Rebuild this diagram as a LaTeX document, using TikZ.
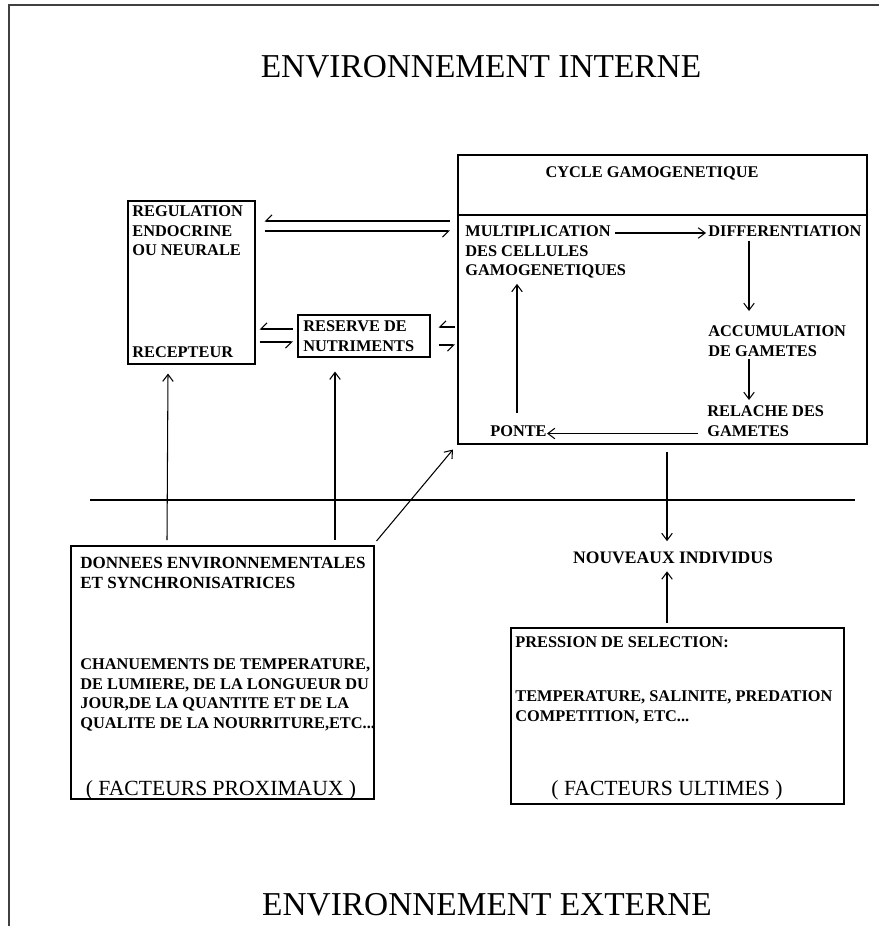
\documentclass[tikz,border=0pt]{standalone}
\usepackage{fontspec}
\setmainfont{Liberation Serif}
\usetikzlibrary{calc,arrows.meta}

\begin{document}
\begin{tikzpicture}[x=0.02cm, y=-0.02cm,
    box/.style={draw, line width=0.9pt, anchor=north west, inner sep=0pt},
    txt/.style={font=\bfseries\fontsize{9.3}{11.3}\selectfont, align=left, inner sep=0pt, anchor=north west},
    big/.style={font=\fontsize{12.3}{14}\selectfont, inner sep=0pt},
    titre/.style={font=\fontsize{19}{22}\selectfont, inner sep=0pt},
    fl/.style={-{Straight Barb[length=4pt,width=6pt]}, line width=0.6pt},
    harp/.style={-{Straight Barb[harpoon,swap,length=3.5pt,width=7pt]}, line width=0.6pt}]
    \useasboundingbox (0,0) rectangle (879,926);

    % 外枠と境界線
    \draw[line width=1pt, black!75] (9,926) -- (9,5) -- (879,5);
    \draw[line width=0.8pt] (90,500) -- (855,500);

    % タイトル
    \node[titre] (interne) at (481,67) {ENVIRONNEMENT INTERNE};
    \node[titre] (externe) at (487,905) {ENVIRONNEMENT EXTERNE};

    % 枠
    \node[box, minimum width=2.54cm, minimum height=3.26cm] (reg) at (127,200) {};
    \node[box, minimum width=2.64cm, minimum height=0.84cm] (res) at (297,314) {};
    \node[box, minimum width=8.18cm, minimum height=5.78cm] (cyc) at (457,154) {};
    \node[box, minimum width=6.06cm, minimum height=5.06cm] (don) at (70,545) {};
    \node[box, minimum width=6.66cm, minimum height=3.52cm] (pre) at (510,627) {};
    \draw[line width=0.9pt] ($(cyc.north west)+(0,61)$) -- ($(cyc.north east)+(0,61)$);

    % 文字
    \node[txt] (regt) at (132,205) {REGULATION\\ENDOCRINE\\OU NEURALE};
    \node[txt, anchor=base west] (rec) at (132,357) {RECEPTEUR};
    \node[txt] (rest) at (303,320) {RESERVE DE\\NUTRIMENTS};
    \node[txt, anchor=center] (cyct) at (652,173) {CYCLE GAMOGENETIQUE};
    \node[txt] (mul) at (465,225) {MULTIPLICATION\\DES CELLULES\\GAMOGENETIQUES};
    \node[txt] (dif) at (708,225) {DIFFERENTIATION};
    \node[txt] (acc) at (708,325) {ACCUMULATION\\DE GAMETES};
    \node[txt] (rel) at (707,405) {RELACHE DES\\GAMETES};
    \node[txt] (ponte) at (490,425) {PONTE};
    \node[txt, font=\bfseries\fontsize{9.7}{11.3}\selectfont] (dont) at (80,557) {DONNEES ENVIRONNEMENTALES\\ET SYNCHRONISATRICES};
    \node[txt] (chg) at (80,658) {CHANUEMENTS DE TEMPERATURE,\\DE LUMIERE, DE LA LONGUEUR DU\\JOUR,DE LA QUANTITE ET DE LA\\QUALITE DE LA NOURRITURE,ETC...};
    \node[big] (prox) at (221,790) {( FACTEURS PROXIMAUX )};
    \node[txt] (selt) at (515,636) {PRESSION DE SELECTION:};
    \node[txt] (fact) at (515,690) {TEMPERATURE, SALINITE, PREDATION\\COMPETITION, ETC...};
    \node[big] (ult) at (667,790) {( FACTEURS ULTIMES )};
    \node[txt, anchor=center, font=\bfseries\fontsize{10}{12}\selectfont] (nouv) at (673,558) {NOUVEAUX INDIVIDUS};

    % 配偶子形成の循環
    \draw[fl] ($(mul.north west)+(150,8)$) -- ($(dif.north west)+(-2,8)$);
    \draw[fl] ($(dif.south west)+(41,4)$) -- ($(acc.north west)+(41,-14)$);
    \draw[fl] ($(acc.south west)+(41,2)$) -- ($(rel.north west)+(42,-5)$);
    \coordinate (r1) at ($(rel.south west)+(-9,-3)$);
    \draw[fl] (r1) -- (r1 -| ponte.east);
    \draw[fl] ($(ponte.north west)+(27,-12)$) -- ($(mul.south west)+(52,5)$);

    % 調節との往復
    \draw[harp] ($(cyc.north west)+(-7,67)$) -- ($(reg.north east)+(9,21)$);
    \draw[harp] ($(reg.north east)+(9,31)$) -- ($(cyc.north west)+(-7,77)$);
    \draw[harp] ($(res.north west)+(-4,15)$) -- ($(reg.north east)+(4,129)$);
    \draw[harp] ($(reg.north east)+(4,142)$) -- ($(res.north west)+(-4,28)$);
    \draw[harp] ($(cyc.north west)+(-2,173)$) -- ($(res.north east)+(8,13)$);
    \draw[harp] ($(res.north east)+(8,31)$) -- ($(cyc.north west)+(-2,191)$);

    % 外部環境から
    \draw[fl] ($(don.north west)+(97,-5)$) -- ($(reg.south west)+(41,9)$);
    \draw[fl] ($(don.north west)+(265,-5)$) -- ($(res.south west)+(38,14)$);
    \draw[fl] ($(don.north east)+(2,-4)$) -- ($(cyc.south west)+(-4,5)$);
    \coordinate (c1) at ($(cyc.south west)+(210,7)$);
    \draw[fl, shorten >=6pt] (c1) -- (c1 |- nouv.north);
    \coordinate (p1) at ($(pre.north west)+(157,-4)$);
    \draw[fl, shorten >=4pt] (p1) -- (p1 |- nouv.south);
    %
\end{tikzpicture}
\end{document}
